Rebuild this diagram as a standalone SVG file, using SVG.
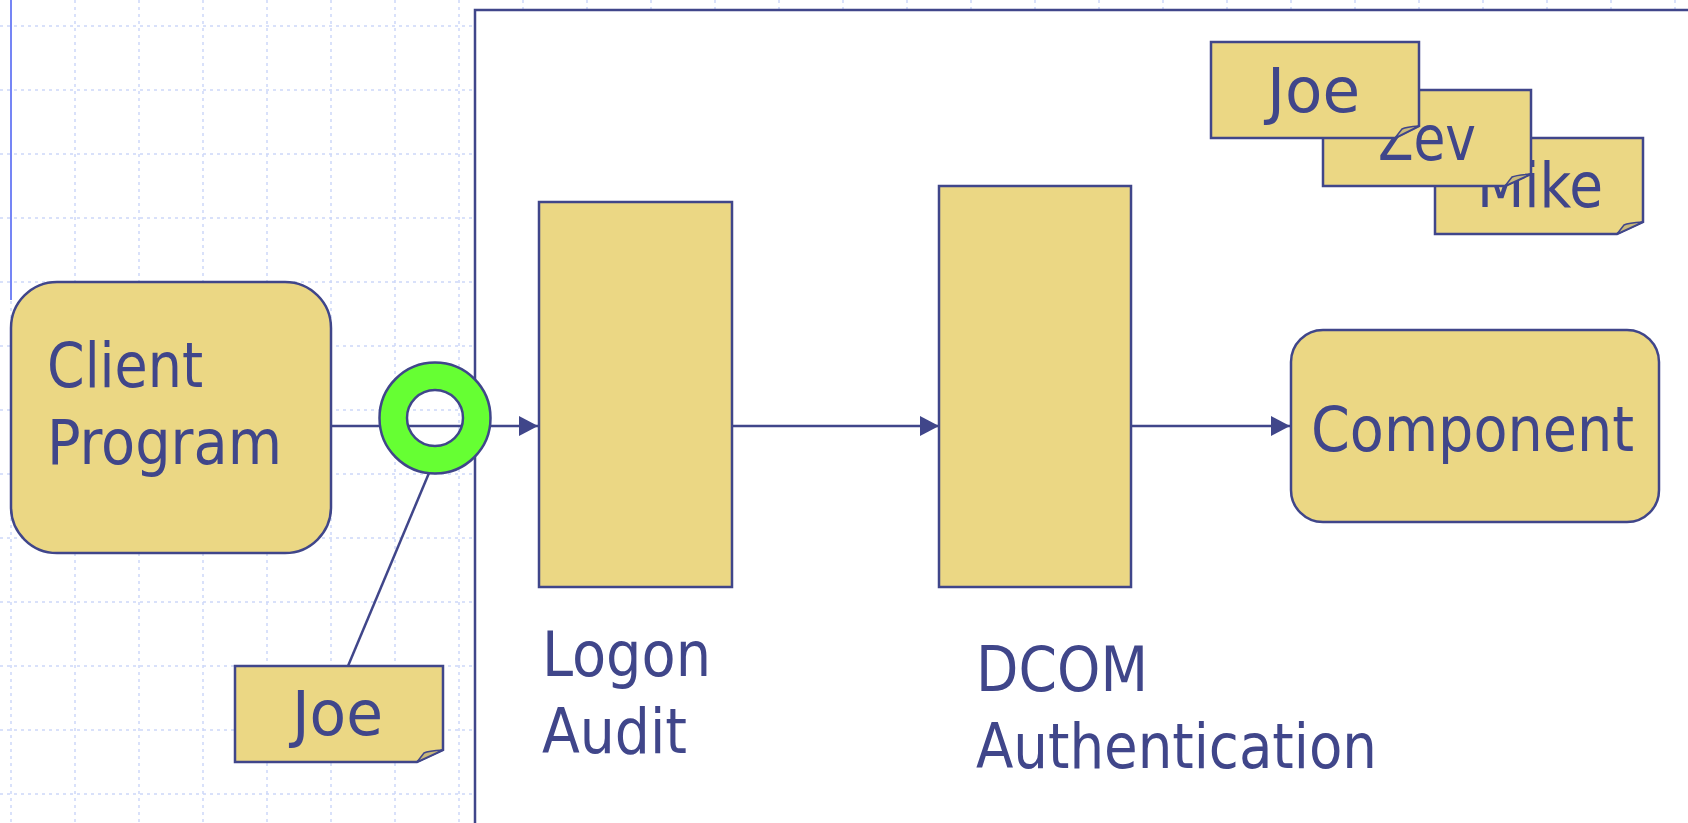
<svg xmlns="http://www.w3.org/2000/svg" width="1688" height="823" viewBox="0 0 1688 823">
<defs>
<style>
.grid{stroke:#cdd8f9;stroke-width:1.5;stroke-dasharray:3 4;fill:none}
.shape{fill:#ebd784;stroke:#40468a;stroke-width:2.5}
.fold{fill:#c9b97a;stroke:#40468a;stroke-width:1.5;stroke-linejoin:round}
.lbl{font-family:"DejaVu Sans Condensed","DejaVu Sans",sans-serif;font-stretch:condensed;font-size:63px;fill:#40468a}
.conn{stroke:#40468a;stroke-width:2.5;fill:none}
</style>
<marker id="arr" markerWidth="20" markerHeight="22" refX="19" refY="11" orient="auto" markerUnits="userSpaceOnUse">
<path d="M0,1 L19,11 L0,21 Z" fill="#40468a"/>
</marker>
</defs>
<rect x="0" y="0" width="1688" height="823" fill="#ffffff"/>
<g id="grid">
<path class="grid" d="M0,26H1688M0,90H1688M0,154H1688M0,218H1688M0,282H1688M0,346H1688M0,410H1688M0,474H1688M0,538H1688M0,602H1688M0,666H1688M0,730H1688M0,794H1688"/>
<path class="grid" d="M11,0V823M75,0V823M139,0V823M203,0V823M267,0V823M331,0V823M395,0V823M459,0V823M523,0V823M587,0V823M651,0V823M715,0V823M779,0V823M843,0V823M907,0V823M971,0V823M1035,0V823M1099,0V823M1163,0V823M1227,0V823M1291,0V823M1355,0V823M1419,0V823M1483,0V823M1547,0V823M1611,0V823M1675,0V823"/>
<line x1="11" y1="0" x2="11" y2="300" stroke="#7585f5" stroke-width="2"/>
</g>
<g id="container">
<rect x="475" y="10" width="1240" height="840" fill="#ffffff" stroke="#40468a" stroke-width="2.5"/>
</g>
<g id="connectors">
<line class="conn" x1="331" y1="426" x2="538" y2="426" marker-end="url(#arr)"/>
<line class="conn" x1="732" y1="426" x2="939" y2="426" marker-end="url(#arr)"/>
<line class="conn" x1="1131" y1="426" x2="1290" y2="426" marker-end="url(#arr)"/>
<line class="conn" x1="348" y1="666" x2="429" y2="473"/>
</g>
<g id="client-program">
<rect class="shape" x="11" y="282" width="320" height="271" rx="46" ry="46"/>
<text class="lbl" x="47" y="387" textLength="156" lengthAdjust="spacingAndGlyphs">Client</text>
<text class="lbl" x="47" y="464" textLength="235" lengthAdjust="spacingAndGlyphs">Program</text>
</g>
<g id="ring">
<path d="M379.5,418a55.5,55.5 0 1,0 111,0a55.5,55.5 0 1,0 -111,0ZM407,418a28,28 0 1,0 56,0a28,28 0 1,0 -56,0Z" fill="#66ff33" fill-rule="evenodd" stroke="#40468a" stroke-width="2.5"/>
</g>
<g id="logon-audit">
<rect class="shape" x="539" y="202" width="193" height="385"/>
<text class="lbl" x="542" y="676" textLength="169" lengthAdjust="spacingAndGlyphs">Logon</text>
<text class="lbl" x="542" y="753" textLength="145" lengthAdjust="spacingAndGlyphs">Audit</text>
</g>
<g id="dcom-authentication">
<rect class="shape" x="939" y="186" width="192" height="401"/>
<text class="lbl" x="976" y="691" textLength="172" lengthAdjust="spacingAndGlyphs">DCOM</text>
<text class="lbl" x="976" y="768" textLength="401" lengthAdjust="spacingAndGlyphs">Authentication</text>
</g>
<g id="component">
<rect class="shape" x="1291" y="330" width="368" height="192" rx="32" ry="32"/>
<text class="lbl" x="1311" y="451" textLength="323" lengthAdjust="spacingAndGlyphs">Component</text>
</g>
<g id="note-joe-client">
<path class="shape" d="M235,666H443V750L417,762H235Z"/>
<path class="fold" d="M417,762L424,753Q428,751 443,750Z"/>
<text class="lbl" x="292" y="735" textLength="91" lengthAdjust="spacingAndGlyphs">Joe</text>
</g>
<g id="note-mike">
<path class="shape" d="M1435,138H1643V222L1617,234H1435Z"/>
<path class="fold" d="M1617,234L1624,225Q1628,223 1643,222Z"/>
<text class="lbl" x="1477" y="207" textLength="126" lengthAdjust="spacingAndGlyphs">Mike</text>
</g>
<g id="note-zev">
<path class="shape" d="M1323,90H1531V174L1505,186H1323Z"/>
<path class="fold" d="M1505,186L1512,177Q1516,175 1531,174Z"/>
<text class="lbl" x="1378" y="160" textLength="98" lengthAdjust="spacingAndGlyphs">Zev</text>
</g>
<g id="note-joe">
<path class="shape" d="M1211,42H1419V126L1395,138H1211Z"/>
<path class="fold" d="M1395,138L1402,129Q1406,127 1419,126Z"/>
<text class="lbl" x="1267" y="112" textLength="93" lengthAdjust="spacingAndGlyphs">Joe</text>
</g>
</svg>
